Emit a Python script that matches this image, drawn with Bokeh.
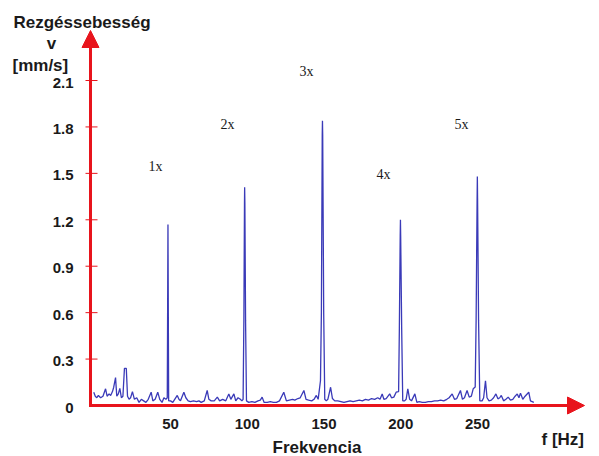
from bokeh.plotting import figure
from bokeh.models import Range1d, Arrow, NormalHead
from bokeh.core.properties import value
from bokeh.embed import file_html
from bokeh.resources import INLINE

# ---- data ----
f_hz = [
    0.0, 1.0, 2.0, 3.0, 4.5, 6.0, 7.7, 8.7, 10.0, 11.0, 12.2, 13.0, 14.2, 15.0, 16.0, 17.0, 18.0, 19.0,
    20.0, 21.2, 22.0, 23.0, 24.0, 25.2, 26.5, 28.0, 29.5, 31.0, 32.5, 34.0, 35.5, 37.4, 38.5, 40.0,
    41.7, 43.0, 44.5, 45.7, 47.0,
    47.9, 48.2, 48.35, 48.5, 48.8,
    50.0, 51.5, 54.4, 55.5, 56.5, 58.7, 60.0, 61.5, 63.0, 65.0, 67.0, 68.5, 70.0, 72.0, 73.9, 75.0,
    76.5, 78.5, 80.5, 82.0, 84.0, 86.0, 88.0, 89.3, 91.3, 92.5, 94.0, 95.5, 96.5,
    97.3, 97.8, 98.2, 98.3, 98.45, 98.9, 99.5,
    101.0, 103.0, 105.0, 107.0, 108.5, 109.7, 111.0, 113.0, 115.0, 117.0, 119.0, 121.0, 123.8, 125.5,
    127.5, 129.5, 131.0, 133.0, 134.5, 136.9, 138.3, 140.0, 142.0, 143.5, 145.0, 146.2, 147.7,
    148.3, 148.85, 149.0, 149.15, 149.8, 150.5,
    151.5, 152.5, 154.3, 155.5, 157.0, 159.0, 161.0, 163.0, 165.0, 167.0, 169.0, 171.0, 173.0, 175.0,
    177.0, 179.0, 181.0, 183.0, 185.0, 186.5, 187.9, 189.0, 190.5, 192.8, 194.0, 195.5, 197.0,
    198.6, 199.1, 199.65, 199.8, 199.95, 200.6, 201.3,
    202.5, 203.5, 204.6, 205.8, 207.0, 209.2, 210.5, 212.0, 214.0, 216.0, 218.0, 220.0, 222.0, 224.0,
    226.0, 228.0, 230.0, 231.5, 233.5, 235.0, 236.5, 238.9, 240.2, 241.5, 243.2, 244.6, 246.0, 247.2,
    248.5, 249.1, 249.75, 249.9, 250.05, 250.7, 251.5,
    253.0, 254.0, 255.2, 256.2, 257.5, 259.0, 260.5, 262.0, 263.3, 264.5, 265.5, 267.0, 268.5, 270.0,
    271.5, 273.0, 274.5, 275.9, 277.0, 278.0, 279.5, 281.0, 283.4, 284.5, 286.7,
]
v_mms = [
    0.086, 0.06, 0.05, 0.065, 0.05, 0.06, 0.108, 0.06, 0.075, 0.065, 0.09, 0.118, 0.18, 0.06, 0.075, 0.11, 0.05, 0.06,
    0.24, 0.24, 0.06, 0.04, 0.05, 0.09, 0.04, 0.05, 0.02, 0.04, 0.03, 0.02, 0.04, 0.086, 0.03, 0.04,
    0.086, 0.04, 0.02, 0.05, 0.04,
    0.05, 0.79, 1.17, 0.79, 0.03,
    0.03, 0.02, 0.065, 0.04, 0.03, 0.086, 0.05, 0.03, 0.025, 0.03, 0.025, 0.03, 0.02, 0.03, 0.097, 0.04,
    0.03, 0.03, 0.054, 0.03, 0.04, 0.03, 0.075, 0.04, 0.075, 0.03, 0.05, 0.04, 0.03,
    0.04, 0.55, 1.31, 1.41, 1.31, 0.55, 0.03,
    0.02, 0.025, 0.02, 0.03, 0.035, 0.054, 0.02, 0.02, 0.025, 0.02, 0.02, 0.03, 0.086, 0.03,
    0.035, 0.04, 0.035, 0.045, 0.05, 0.097, 0.04, 0.035, 0.03, 0.04, 0.065, 0.04, 0.16,
    0.6, 1.75, 1.84, 1.75, 0.6, 0.04,
    0.03, 0.04, 0.118, 0.045, 0.03, 0.03, 0.025, 0.02, 0.025, 0.03, 0.025, 0.03, 0.035, 0.03,
    0.04, 0.035, 0.045, 0.04, 0.05, 0.04, 0.075, 0.04, 0.045, 0.075, 0.05, 0.054, 0.086,
    0.09, 0.5, 1.1, 1.2, 1.1, 0.5, 0.03,
    0.03, 0.04, 0.108, 0.04, 0.03, 0.075, 0.02, 0.025, 0.02, 0.02, 0.025, 0.025, 0.03, 0.03,
    0.035, 0.03, 0.04, 0.05, 0.075, 0.04, 0.045, 0.097, 0.04, 0.05, 0.097, 0.054, 0.06, 0.108,
    0.12, 0.55, 1.34, 1.48, 1.34, 0.55, 0.03,
    0.03, 0.05, 0.16, 0.05, 0.03, 0.035, 0.05, 0.075, 0.043, 0.05, 0.065, 0.03, 0.04, 0.054,
    0.035, 0.04, 0.06, 0.075, 0.05, 0.08, 0.04, 0.06, 0.086, 0.03, 0.02,
]

y_ticks = [0, 0.3, 0.6, 0.9, 1.2, 1.5, 1.8, 2.1]
y_tick_labels = ["0", "0.3", "0.6", "0.9", "1.2", "1.5", "1.8", "2.1"]
x_ticks = [50, 100, 150, 200, 250]
x_tick_labels = ["50", "100", "150", "200", "250"]

harmonic_names = ["1x", "2x", "3x", "4x", "5x"]
harmonic_label_f = [40.2, 87.1, 138.6, 188.8, 239.6]
harmonic_label_v = [1.544, 1.816, 2.158, 1.493, 1.816]

RED = "#e8141c"
BLUE = "#3a3ab8"
TXT = "#1a1a1a"

# pixel <-> data scale (frame covers the whole canvas)
PX_PER_HZ = 1.535
PX_PER_V = 154.76
X0_PX, Y0_PX = 93.25, 405.0
W, H = 599, 456


def fx(px):
    return (px - X0_PX) / PX_PER_HZ


def vy(py):
    return (Y0_PX - py) / PX_PER_V


p = figure(width=W, height=H, output_backend="svg", toolbar_location=None,
           x_range=Range1d(fx(0), fx(W)), y_range=Range1d(vy(H), vy(0)),
           x_axis_type=None, y_axis_type=None,
           min_border=0, title=None)
p.background_fill_color = "white"
p.border_fill_color = "white"
p.outline_line_color = None
p.grid.visible = False

p.line(f_hz, v_mms, line_color=BLUE, line_width=1.3)

# axis lines with arrow heads
x_axis_f = fx(90)
p.add_layout(Arrow(end=NormalHead(size=17, fill_color=RED, line_color=RED),
                   x_start=x_axis_f, y_start=vy(406.5), x_end=x_axis_f, y_end=vy(30),
                   line_color=RED, line_width=3))
p.add_layout(Arrow(end=NormalHead(size=17, fill_color=RED, line_color=RED),
                   x_start=fx(88.5), y_start=0, x_end=fx(584), y_end=0,
                   line_color=RED, line_width=3))

# y ticks (crossing the axis)
p.segment(x0=[fx(85)] * len(y_ticks[1:]), y0=y_ticks[1:],
          x1=[fx(97)] * len(y_ticks[1:]), y1=y_ticks[1:],
          line_color=RED, line_width=1)

# tick labels
p.text(x=[fx(73)] * len(y_ticks), y=y_ticks, text=y_tick_labels,
       text_align="right", text_baseline="middle", y_offset=2,
       text_font=value("Liberation Sans"), text_font_size="15px",
       text_font_style="bold", text_color=TXT)
p.text(x=x_ticks, y=[vy(423)] * len(x_ticks), text=x_tick_labels,
       text_align="center", text_baseline="middle",
       text_font=value("Liberation Sans"), text_font_size="15px",
       text_font_style="bold", text_color=TXT)


def add_text(xp, yp, text, align="left", size="17px", style="bold", font="Liberation Sans"):
    p.text(x=[xp], y=[yp], text=[text], text_align=align, text_baseline="middle",
           text_font=value(font), text_font_size=size, text_font_style=style,
           text_color=TXT)


add_text(fx(13), vy(22), "Rezgéssebesség")
add_text(fx(51), vy(43), "v", align="center")
add_text(fx(12), vy(65), "[mm/s]")
add_text(fx(272), vy(447), "Frekvencia")
add_text(fx(541), vy(439), "f  [Hz]")

p.text(x=harmonic_label_f, y=harmonic_label_v, text=harmonic_names,
       text_align="center", text_baseline="middle",
       text_font=value("Liberation Serif"), text_font_size="14px",
       text_color=TXT)

open("out.html", "w").write(file_html(p, INLINE))
